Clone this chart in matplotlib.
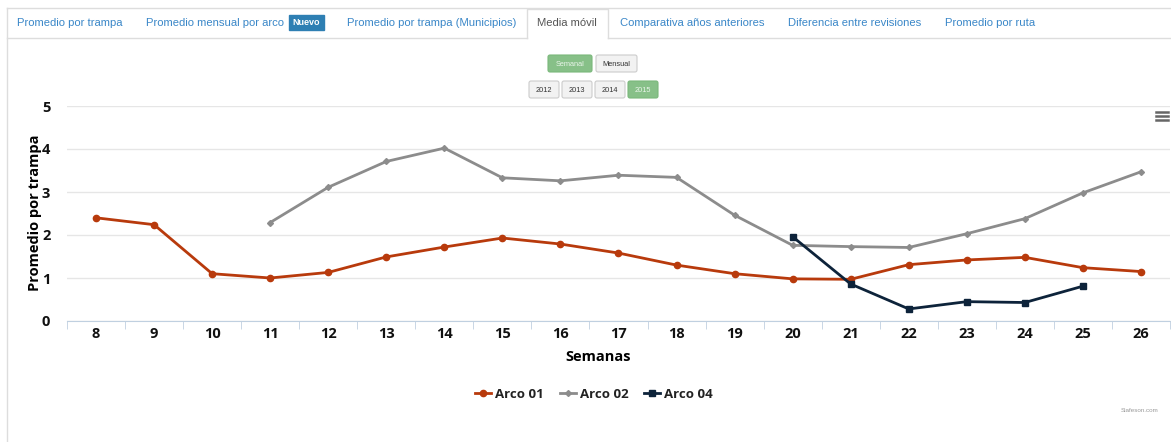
import matplotlib.pyplot as plt
from matplotlib.patches import FancyBboxPatch, Rectangle

# data
semanas = [8, 9, 10, 11, 12, 13, 14, 15, 16, 17, 18, 19, 20, 21, 22, 23, 24, 25, 26]
arco01 = [2.40, 2.24, 1.10, 1.00, 1.13, 1.49, 1.72, 1.93, 1.79, 1.58, 1.30,
          1.10, 0.98, 0.97, 1.31, 1.42, 1.48, 1.24, 1.15]
arco02 = [None, None, None, 2.29, 3.11, 3.71, 4.02, 3.33, 3.26, 3.39, 3.34,
          2.46, 1.76, 1.73, 1.71, 2.03, 2.38, 2.98, 3.47]
arco04 = [None] * 12 + [1.96, 0.86, 0.28, 0.45, 0.43, 0.81, None]

tabs = ['Promedio por trampa', 'Promedio mensual por arco',
        'Promedio por trampa (Municipios)', 'Media móvil',
        'Comparativa años anteriores', 'Diferencia entre revisiones',
        'Promedio por ruta']
tab_x = [17, 146, 347, 537, 620, 788, 945]
years = ['2012', '2013', '2014', '2015']

W, H = 1171, 442
FONT = 'Open Sans'
RED = '#b83a0c'
GRAY = '#8c8c8c'
NAVY = '#0d233a'

fig = plt.figure(figsize=(W / 100, H / 100), dpi=100)

# page overlay in pixel coordinates
ov = fig.add_axes([0, 0, 1, 1])
ov.set_xlim(0, W)
ov.set_ylim(H, 0)
ov.axis('off')

ov.plot([7, W], [8, 8], color='#dddddd', lw=1)
ov.plot([7, 7], [8, H], color='#dddddd', lw=1)
ov.plot([7, 527], [38, 38], color='#dddddd', lw=1)
ov.plot([608, W], [38, 38], color='#dddddd', lw=1)
ov.plot([527, 527, 608, 608], [38, 9, 9, 38], color='#dddddd', lw=1)

for name, x in zip(tabs, tab_x):
    col = '#555555' if name == 'Media móvil' else '#3a87c8'
    ov.text(x, 23, name, color=col, fontsize=8.1, family='Liberation Sans',
            va='center', ha='left')
ov.add_patch(Rectangle((289, 15), 35, 15, color='#2e7fb3'))
ov.text(306.5, 22.5, 'Nuevo', color='white', fontsize=6.5, weight='bold',
        family='Liberation Sans', ha='center', va='center')


def button(x0, x1, y0, y1, label, active):
    fc = '#87c088' if active else '#f2f2f2'
    ec = '#7ab87b' if active else '#cccccc'
    tc = '#eaf5ea' if active else '#333333'
    ov.add_patch(FancyBboxPatch((x0, y0), x1 - x0, y1 - y0,
                                boxstyle='round,pad=0,rounding_size=2',
                                fc=fc, ec=ec, lw=0.8))
    ov.text((x0 + x1) / 2, (y0 + y1) / 2 + 0.5, label, fontsize=5.3,
            family='Liberation Sans', color=tc, ha='center', va='center')


button(548, 592, 55, 72, 'Semanal', True)
button(596, 637, 55, 72, 'Mensual', False)
for i, yr in enumerate(years):
    x0 = 529 + i * 33
    button(x0, x0 + 30, 81, 98, yr, yr == '2015')

for yy in (112, 116, 120):
    ov.plot([1156, 1168], [yy, yy], color='#666666', lw=1.8)

ov.text(1140, 411, 'Siafeson.com', fontsize=4.5, color='#999999',
        ha='center', va='center', family='Liberation Sans')

# chart
ax = fig.add_axes([67 / W, 121 / H, 1103 / W, 215 / H])
pos = list(range(len(semanas)))
ax.plot(pos, arco01, color=RED, lw=2, marker='o', ms=4.5, label='Arco 01')
ax.plot(pos, arco02, color=GRAY, lw=2, marker='D', ms=3, label='Arco 02')
ax.plot(pos, arco04, color=NAVY, lw=2, marker='s', ms=4.5, label='Arco 04')

ax.set_xlim(-0.5, len(semanas) - 0.5)
ax.set_ylim(0, 5)
ax.set_yticks(range(6))
ax.grid(axis='y', color='#e6e6e6', lw=1)
ax.set_axisbelow(True)
for s in ('top', 'right', 'left'):
    ax.spines[s].set_visible(False)
ax.spines['bottom'].set_color('#c0d0e0')
ax.patch.set_alpha(0)

ax.set_xticks(pos)
ax.set_xticklabels([str(s) for s in semanas])
ax.set_xticks([p - 0.5 for p in pos] + [len(semanas) - 0.5], minor=True)
ax.tick_params(axis='x', which='major', length=0, pad=4)
ax.tick_params(axis='x', which='minor', length=6, color='#c0d0e0')
ax.tick_params(axis='y', length=0, pad=12)
for lab in ax.get_xticklabels() + ax.get_yticklabels():
    lab.set_fontsize(10.5)
    lab.set_fontweight('bold')
    lab.set_family(FONT)
    lab.set_color('#111111')

fig.text(35 / W, 1 - 213 / H, 'Promedio por trampa', rotation=90,
         ha='center', va='center', fontsize=10.5, weight='bold', family=FONT)
fig.text(598 / W, 1 - 357 / H, 'Semanas', ha='center', va='center',
         fontsize=10.5, weight='bold', family=FONT)

leg = ax.legend(loc='center', bbox_to_anchor=(594 / W, 1 - 394 / H),
                bbox_transform=fig.transFigure, ncol=3, frameon=False,
                prop={'family': FONT, 'weight': 'bold', 'size': 9.5},
                handlelength=1.2, handletextpad=0.3, columnspacing=1.2)
for t in leg.get_texts():
    t.set_color('#222222')

fig.savefig('out.png', dpi=100)
